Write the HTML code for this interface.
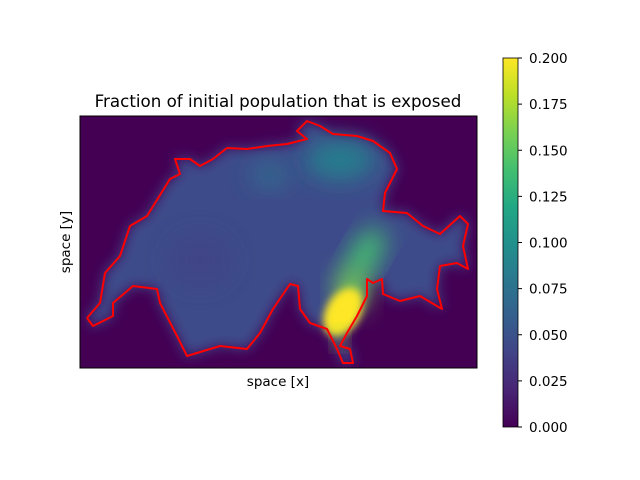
<!DOCTYPE html>
<html><head><meta charset="utf-8"><style>
body{margin:0;background:#fff;}
svg{display:block;font-family:"DejaVu Sans","Liberation Sans",sans-serif;}
</style></head><body>
<svg id="chart" width="640" height="480" viewBox="0 0 640 480">
<defs>
<linearGradient id="vir" x1="0" y1="1" x2="0" y2="0">
<stop offset="0" stop-color="#440154"/><stop offset="0.1" stop-color="#482475"/><stop offset="0.2" stop-color="#414487"/><stop offset="0.3" stop-color="#355f8d"/><stop offset="0.4" stop-color="#2a788e"/><stop offset="0.5" stop-color="#21918c"/><stop offset="0.6" stop-color="#22a884"/><stop offset="0.7" stop-color="#44bf70"/><stop offset="0.8" stop-color="#7ad151"/><stop offset="0.9" stop-color="#bddf26"/><stop offset="1" stop-color="#fde725"/>
</linearGradient>
<filter id="b1" x="-20%" y="-20%" width="140%" height="140%"><feGaussianBlur stdDeviation="6"/></filter>
<filter id="b2" x="-50%" y="-50%" width="200%" height="200%"><feGaussianBlur stdDeviation="12"/></filter>
<filter id="b3" x="-50%" y="-50%" width="200%" height="200%"><feGaussianBlur stdDeviation="4"/></filter>
<clipPath id="plotclip"><rect x="80" y="116" width="397" height="252"/></clipPath>
</defs>
<text x="278" y="107" font-size="16.7" text-anchor="middle">Fraction of initial population that is exposed</text>
<g clip-path="url(#plotclip)">
<rect x="80" y="116" width="397" height="252" fill="#440154"/>
<polygon id="fillshape" filter="url(#b1)" fill="#3e4c8a"/>
<g id="blobs"></g>
</g>
<rect x="80" y="116" width="397" height="252" fill="none" stroke="#000" stroke-width="1"/>
<polyline id="border" fill="none" stroke="#ff0000" stroke-width="2" stroke-linejoin="round"/>
<text x="278" y="386" font-size="13.5" text-anchor="middle">space [x]</text>
<text x="70" y="242" font-size="13.5" text-anchor="middle" transform="rotate(-90 70 242)">space [y]</text>
<rect x="503" y="58" width="15" height="369" fill="url(#vir)" stroke="#000" stroke-width="0.8"/>
<g id="cbticks"></g>
</svg>
<script>
var cbTicks=[0,0.025,0.05,0.075,0.1,0.125,0.15,0.175,0.2];
var cbTickLabels=["0.000","0.025","0.050","0.075","0.100","0.125","0.150","0.175","0.200"];
var blobX=[340,270,365,352,343,340,200];
var blobY=[160,175,255,290,312,338,260];
var blobVal=[0.085,0.07,0.14,0.16,0.2,0.17,0.04];
var blobRx=[35,20,14,16,17,6,30];
var blobRy=[20,12,30,20,26,8,25];
var borderPts=[[87,318],[100,303],[105,273],[120,256],[130,226],[147,216],[170,179],[180,174],[175,159],[190,159],[200,166],[213,159],[227,148],[247,149],[267,146],[287,144],[307,139],[297,131],[307,121],[320,126],[333,134],[357,136],[373,141],[390,153],[397,169],[385,193],[383,211],[407,213],[423,226],[440,234],[460,216],[468,224],[463,246],[468,269],[457,263],[440,266],[437,289],[442,309],[420,296],[400,301],[383,294],[382,279],[373,283],[367,279],[367,296],[357,316],[347,333],[340,346],[350,349],[353,363],[343,363],[337,349],[327,329],[310,323],[300,309],[298,286],[290,284],[273,309],[260,333],[247,349],[220,346],[187,356],[177,336],[160,303],[157,289],[133,286],[113,303],[113,316],[93,326],[87,318]];
var NS="http://www.w3.org/2000/svg";
var cbTop=58,cbBot=427,cbMax=0.2;
function cy(v){return cbBot-(v/cbMax)*(cbBot-cbTop);}
var stops=[[0,"#440154"],[0.1,"#482475"],[0.2,"#414487"],[0.3,"#355f8d"],[0.4,"#2a788e"],[0.5,"#21918c"],[0.6,"#22a884"],[0.7,"#44bf70"],[0.8,"#7ad151"],[0.9,"#bddf26"],[1,"#fde725"]];
function hex(h){return [parseInt(h.substr(1,2),16),parseInt(h.substr(3,2),16),parseInt(h.substr(5,2),16)];}
function cmap(v){var t=Math.max(0,Math.min(1,v/cbMax));for(var i=1;i<stops.length;i++){if(t<=stops[i][0]){var a=hex(stops[i-1][1]),b=hex(stops[i][1]);var f=(t-stops[i-1][0])/(stops[i][0]-stops[i-1][0]);return "rgb("+a.map(function(x,k){return Math.round(x+(b[k]-x)*f);}).join(",")+")";}}return stops[10][1];}
var ptsStr=borderPts.map(function(p){return p.join(",");}).join(" ");
document.getElementById("border").setAttribute("points",ptsStr);
document.getElementById("fillshape").setAttribute("points",ptsStr);
var bg=document.getElementById("blobs");
for(var i=0;i<blobX.length;i++){
var e=document.createElementNS(NS,"ellipse");


e.setAttribute("cx",blobX[i]);e.setAttribute("cy",blobY[i]);
e.setAttribute("rx",blobRx[i]);e.setAttribute("ry",blobRy[i]);
e.setAttribute("fill",cmap(blobVal[i]));
e.setAttribute("filter",blobVal[i]>=0.19?"url(#b3)":"url(#b2)");
if(blobVal[i]>=0.19)e.setAttribute("transform","rotate(30 "+blobX[i]+" "+blobY[i]+")");
if(i==2)e.setAttribute("transform","rotate(30 "+blobX[i]+" "+blobY[i]+")");
bg.appendChild(e);
}
var tg=document.getElementById("cbticks");
for(var j=0;j<cbTicks.length;j++){
var y=cy(cbTicks[j]);
var l=document.createElementNS(NS,"line");


l.setAttribute("x1",518);l.setAttribute("x2",522);l.setAttribute("y1",y);l.setAttribute("y2",y);l.setAttribute("stroke","#000");
tg.appendChild(l);
var t=document.createElementNS(NS,"text");


t.setAttribute("x",529);t.setAttribute("y",y+5);t.setAttribute("font-size","13.5");
t.textContent=cbTickLabels[j];
tg.appendChild(t);
}
</script>
</body></html>
